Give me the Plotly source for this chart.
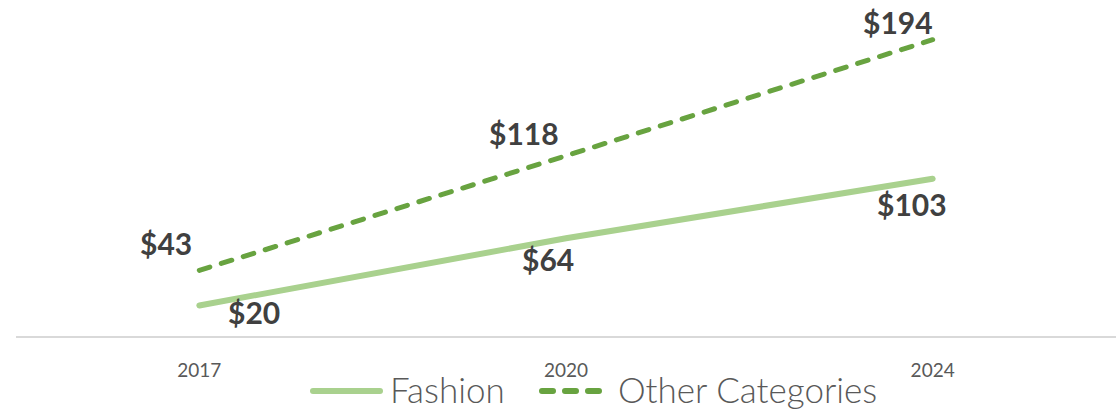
import plotly.graph_objects as go

# Sales by year (USD billions)
years = ["2017", "2020", "2024"]
fashion = [20, 64, 103]
other_categories = [43, 118, 194]

series_names = ["Fashion", "Other Categories"]
fashion_color = "#A9D18E"
other_color = "#68A340"
label_color = "#404040"
axis_text_color = "#595959"

W, H = 1119, 411
M_L, M_R, M_T, M_B = 16, 3, 0, 75
plot_w = W - M_L - M_R
plot_h = H - M_T - M_B


def px_to_paper_x(px):
    return (px - M_L) / plot_w


def px_to_paper_y(py):
    return (H - M_B - py) / plot_h


fig = go.Figure()
fig.add_trace(go.Scatter(
    x=years, y=fashion, name=series_names[0], mode="lines",
    line=dict(color=fashion_color, width=6), showlegend=False,
))
fig.add_trace(go.Scatter(
    x=years, y=other_categories, name=series_names[1], mode="lines",
    line=dict(color=other_color, width=5, dash="11px,12px"), showlegend=False,
))

label_font = dict(family="Lato", size=30, color=label_color, weight="bold")

# value labels: (series values, per-point pixel offsets); category axes
# place annotations by category index
fashion_offsets = [(55, -7), (-18, -21), (-21, -25)]
other_offsets = [(-33, 27), (-42, 23), (-35, 18)]
for values, offsets in ((fashion, fashion_offsets), (other_categories, other_offsets)):
    for i, (v, (dx, dy)) in enumerate(zip(values, offsets)):
        fig.add_annotation(
            x=i, y=v, xref="x", yref="y", text=f"${v}", showarrow=False,
            xshift=dx, yshift=dy, font=label_font,
            xanchor="center", yanchor="middle",
        )

# legend drawn below the axis
legend_y = px_to_paper_y(391)
fig.add_shape(type="line", xref="paper", yref="paper",
              x0=px_to_paper_x(313), x1=px_to_paper_x(380), y0=legend_y, y1=legend_y,
              line=dict(color=fashion_color, width=6))
fig.add_shape(type="line", xref="paper", yref="paper",
              x0=px_to_paper_x(542), x1=px_to_paper_x(603), y0=legend_y, y1=legend_y,
              line=dict(color=other_color, width=6, dash="11px,12px"))
legend_font = dict(family="Lato", size=35, color=axis_text_color, weight=300)
fig.add_annotation(x=px_to_paper_x(388), y=legend_y, xref="paper", yref="paper",
                   text=series_names[0], showarrow=False, xanchor="left", yanchor="middle",
                   font=legend_font, yshift=2)
fig.add_annotation(x=px_to_paper_x(616), y=legend_y, xref="paper", yref="paper",
                   text=series_names[1], showarrow=False, xanchor="left", yanchor="middle",
                   font=legend_font, yshift=2)

fig.update_layout(
    width=W, height=H,
    margin=dict(l=M_L, r=M_R, t=M_T, b=M_B),
    paper_bgcolor="white", plot_bgcolor="white",
    showlegend=False,
    xaxis=dict(
        type="category", range=[-0.5, 2.5], showgrid=False, zeroline=False,
        showline=True, linecolor="#D9D9D9", linewidth=1.5,
        ticks="", ticklabelstandoff=16,
        tickfont=dict(family="Lato", size=19, color=axis_text_color, weight="normal"),
    ),
    yaxis=dict(range=[0, 220], visible=False, showgrid=False, zeroline=False),
)

round_caps = """
var gd = document.getElementById('{plot_id}');
function roundCaps() {
  gd.querySelectorAll('.scatterlayer path.js-line, .shapelayer path').forEach(function (p) {
    p.style.strokeLinecap = 'round';
  });
}
roundCaps();
gd.on('plotly_afterplot', roundCaps);
"""

fig.write_html("out.html", post_script=round_caps)
